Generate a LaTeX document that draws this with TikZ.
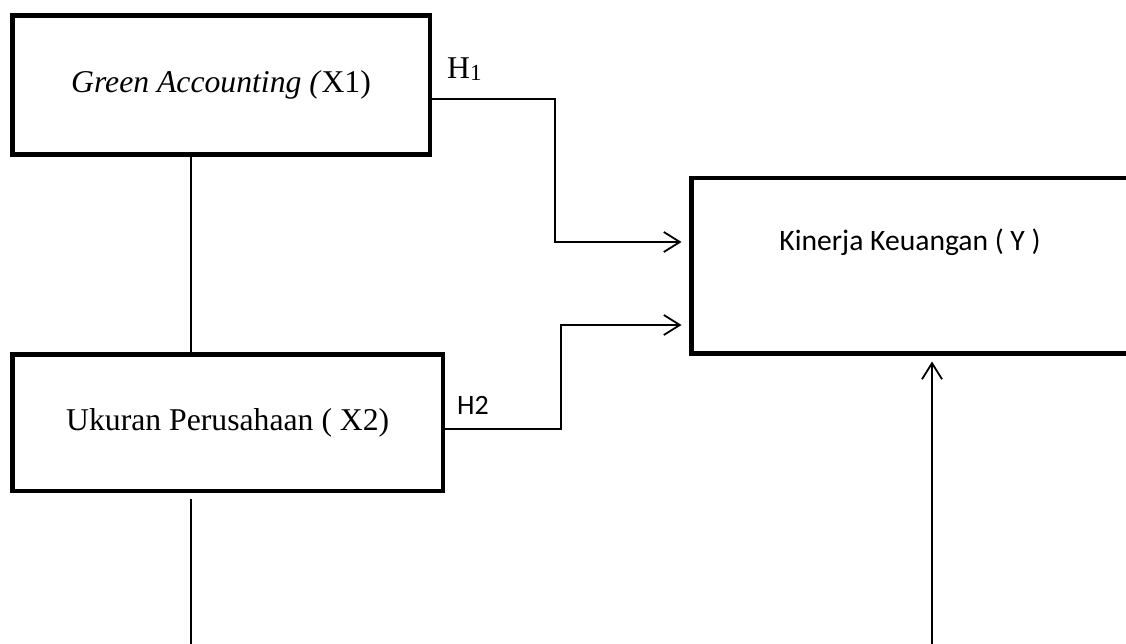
\documentclass[tikz,border=0pt]{standalone}
\usepackage{fontspec}
\setmainfont{Liberation Serif}
\newfontfamily\calibri{Carlito}
\usetikzlibrary{arrows.meta}

\tikzset{
  varbox/.style={draw=black, line width=4.5pt, rectangle, inner sep=0pt, outer sep=0pt},
  serifsize/.style={font=\fontsize{31.7}{36}\selectfont},
  sanssize/.style={font=\calibri\fontsize{29.6}{34}\selectfont},
  hsans/.style={font=\calibri\fontsize{28}{32}\selectfont},
  conn/.style={draw=black, line width=1.6pt},
  arr/.style={conn, -{Straight Barb[length=16pt, width=20pt, line width=1.8pt]}},
}

\begin{document}
\begin{tikzpicture}[x=1pt, y=-1pt]
  \clip (0,0) rectangle (1126,644);
  \fill[white] (0,0) rectangle (1126,644);

  % independent variables
  \node[varbox, serifsize, minimum width=417.5pt, minimum height=139pt]
    (x1) at (221,85) {\textit{Green Accounting (}X1)};
  \node[varbox, serifsize, minimum width=430.5pt, minimum height=136.5pt]
    (x2) at (227.75,422.75) {Ukuran Perusahaan ( X2)};

  % dependent variable (box runs past the right edge)
  \node[varbox, minimum width=448.5pt, minimum height=175.5pt]
    (ky) at (915.75,265.75) {};
  \node[sanssize, anchor=base] (kytext) at (910,250.5) {Kinerja Keuangan ( Y )};

  % hypothesis labels
  \node[serifsize, anchor=base west, inner sep=0pt] (h1) at (447,79)
    {H{\fontsize{23}{26}\selectfont\raisebox{-1.5pt}{1}}};
  \node[hsans, anchor=base west, inner sep=0pt] (h2) at (457,414) {H2};

  % routing points
  \coordinate (linkx) at (191,0);
  \coordinate (h1start) at (0,99);
  \coordinate (h1bend) at (555,242);
  \coordinate (h2start) at (0,429);
  \coordinate (h2bend) at (561,325);
  \coordinate (lowleft) at (191,650);
  \coordinate (lowright) at (932,650);

  % link between the two independent variables
  \draw[conn] (x1.south -| linkx) -- (x2.north -| linkx);

  % H1
  \draw[arr, shorten >=10pt] (x1.east |- h1start) -| (h1bend) -- (ky.west |- h1bend);
  % H2
  \draw[arr, shorten >=10pt] (x2.east |- h2start) -| (h2bend) -- (ky.west |- h2bend);

  % lines leaving the lower edge
  \draw[conn] ([yshift=-8pt]x2.south -| linkx) -- (lowleft);
  \draw[arr, shorten >=8pt] (lowright) -- (ky.south -| lowright);
\end{tikzpicture}
\end{document}
